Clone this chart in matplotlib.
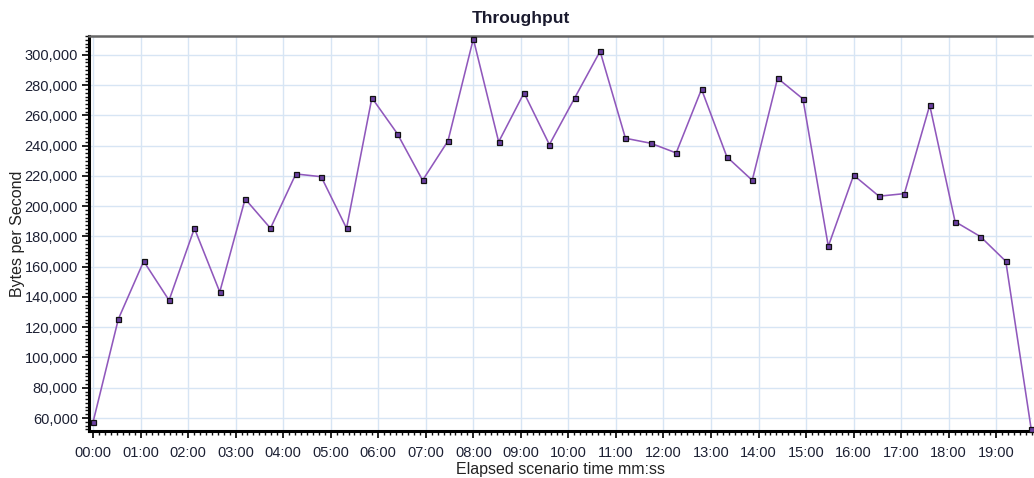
import matplotlib.pyplot as plt
from matplotlib.ticker import MultipleLocator, FuncFormatter

# elapsed time (seconds) and throughput (bytes per second)
elapsed_sec = [0, 32, 64, 96, 128, 160, 192, 224, 256, 288, 320, 352, 384,
               416, 448, 480, 512, 544, 576, 608, 640, 672, 704, 736, 768,
               800, 832, 864, 896, 928, 960, 992, 1024, 1056, 1088, 1120,
               1152, 1184]
throughput = [57100, 125400, 163600, 137800, 185400, 143300, 204800, 185400,
              221300, 219500, 185400, 271600, 248000, 217100, 243100, 310600,
              242500, 274900, 240700, 271600, 302400, 244900, 241600, 235200,
              277300, 232600, 217100, 284600, 270900, 173500, 220500, 206600,
              208300, 266700, 189800, 179900, 163600, 52900]

plt.rcParams['font.family'] = ['Liberation Sans', 'DejaVu Sans']

fig = plt.figure(figsize=(10.34, 4.78), dpi=100)
ax = fig.add_axes([0.0861, 0.0983, 0.9119, 0.8264])

ax.plot(elapsed_sec, throughput, color='#9058bc', linewidth=1.15,
        marker='s', markersize=3.6, markerfacecolor='#6a3fa0',
        markeredgecolor='#111111', markeredgewidth=0.9, clip_on=False, zorder=3)

ax.set_xlim(-5, 1185)
ax.set_ylim(51400, 312500)

# ticks
ax.xaxis.set_major_locator(MultipleLocator(60))
ax.xaxis.set_minor_locator(MultipleLocator(7.5))
ax.xaxis.set_major_formatter(FuncFormatter(
    lambda v, p: "%02d:%02d" % (int(v) // 60, int(v) % 60)))
ax.yaxis.set_major_locator(MultipleLocator(20000))
ax.yaxis.set_minor_locator(MultipleLocator(2500))
ax.yaxis.set_major_formatter(FuncFormatter(lambda v, p: "{:,.0f}".format(v)))

ax.tick_params(which='major', direction='out', length=5, width=1.3,
               colors='#111111', labelsize=10.5, labelcolor='#1c2033')
ax.tick_params(axis='x', which='major', pad=6)
ax.tick_params(axis='y', which='major', pad=3)
ax.tick_params(which='minor', direction='out', length=3, width=1.0,
               colors='#111111')

ax.grid(True, which='major', color='#d7e5f4', linewidth=1.0)
ax.set_axisbelow(True)

# spines
ax.spines['left'].set_color('#000000')
ax.spines['left'].set_linewidth(2.2)
ax.spines['bottom'].set_color('#000000')
ax.spines['bottom'].set_linewidth(2.2)
ax.spines['top'].set_color('#666666')
ax.spines['top'].set_linewidth(1.8)
ax.spines['right'].set_visible(False)

# title is centred on the whole figure, not on the axes
fig.text(0.504, 0.962, "Throughput", fontsize=12.5, fontweight='bold',
         color='#1a1a2e', ha='center', va='center')
ax.set_xlabel("Elapsed scenario time mm:ss", fontsize=11.5, color='#222222', labelpad=1)
ax.set_ylabel("Bytes per Second", fontsize=11.5, color='#222222', labelpad=0)

fig.savefig("out.png", dpi=100)
